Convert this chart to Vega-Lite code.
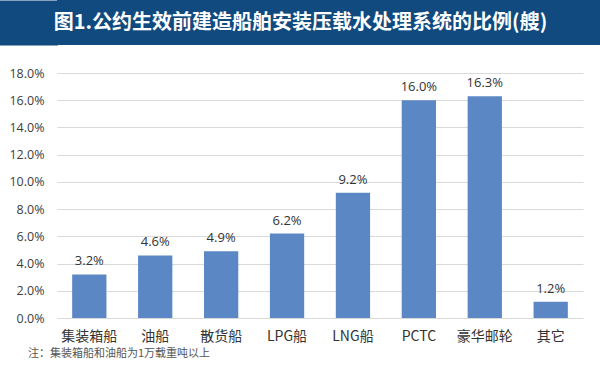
{
  "$schema": "https://vega.github.io/schema/vega-lite/v6.json",
  "padding": 0,
  "background": "white",
  "config": {"view": {"stroke": null}, "font": "Noto Sans CJK SC"},
  "spacing": 22,
  "columns": 1,
  "concat": [
    {
      "width": 543,
      "height": 45,
      "view": {"fill": "#104a7f", "stroke": null},
      "data": {"values": [{"t": "图1.公约生效前建造船舶安装压载水处理系统的比例(艘)"}]},
      "mark": {"type": "text", "color": "white", "fontSize": 20, "fontWeight": "bold", "font": "Noto Sans CJK SC", "dx": -28},
      "encoding": {
        "x": {"field": "t", "type": "nominal", "axis": null},
        "y": {"field": "t", "type": "nominal", "axis": {"title": null, "labels": false, "ticks": false, "grid": false, "domain": true, "domainColor": "#104a7f", "domainWidth": 58, "domainCap": "butt", "offset": 28.5}},
        "text": {"field": "t"}
      }
    },
    {
      "width": 526,
      "height": 245,
      "data": {"values": [
        {"ship": "集装箱船", "v": 0.032},
        {"ship": "油船", "v": 0.046},
        {"ship": "散货船", "v": 0.049},
        {"ship": "LPG船", "v": 0.062},
        {"ship": "LNG船", "v": 0.092},
        {"ship": "PCTC", "v": 0.16},
        {"ship": "豪华邮轮", "v": 0.163},
        {"ship": "其它", "v": 0.012}
      ]},
      "title": {
        "text": "注：集装箱船和油船为1万载重吨以上",
        "orient": "bottom",
        "anchor": "start",
        "frame": "bounds",
        "fontSize": 11,
        "fontWeight": "normal",
        "color": "#555555",
        "font": "Noto Sans CJK SC",
        "offset": 5,
        "dx": 28
      },
      "encoding": {
        "x": {
          "field": "ship", "type": "nominal", "sort": null,
          "scale": {"paddingInner": 0.48, "paddingOuter": 0.23},
          "axis": {"title": null, "labelAngle": 0, "ticks": false, "domain": false, "labelFontSize": 14, "labelColor": "#333333", "labelPadding": 11, "labelFont": "Noto Sans CJK SC"}
        },
        "y": {
          "field": "v", "type": "quantitative",
          "scale": {"domain": [0, 0.18]},
          "axis": {"title": null, "format": ".1%", "values": [0, 0.02, 0.04, 0.06, 0.08, 0.1, 0.12, 0.14, 0.16, 0.18], "ticks": false, "domain": false, "gridColor": "#d9d9d9", "labelFontSize": 12.5, "labelColor": "#404040", "labelPadding": 13, "labelFont": "Open Sans", "minExtent": 57, "maxExtent": 57}
        }
      },
      "layer": [
        {"mark": {"type": "bar", "color": "#5b87c5"}},
        {
          "mark": {"type": "text", "baseline": "bottom", "dy": -6, "fontSize": 13, "color": "#333333", "font": "Open Sans"},
          "encoding": {"text": {"field": "v", "format": ".1%"}}
        }
      ]
    }
  ]
}
